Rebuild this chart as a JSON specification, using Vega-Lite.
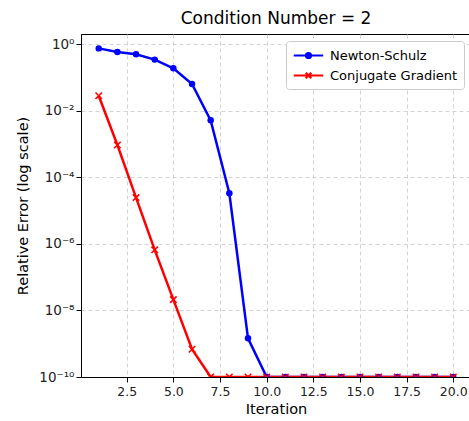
{
  "$schema": "https://vega.github.io/schema/vega-lite/v6.json",
  "autosize": {"type": "none"},
  "padding": {"left": 81, "top": 34, "right": 0, "bottom": 44},
  "width": 390,
  "height": 343,
  "background": "white",
  "title": {"text": "Condition Number = 2", "font": "DejaVu Sans", "fontSize": 17, "fontWeight": "normal", "color": "black", "offset": 6, "anchor": "middle"},
  "config": {
    "view": {"stroke": "black", "strokeWidth": 1},
    "axis": {
      "labelFont": "DejaVu Sans", "labelFontSize": 12.5, "labelColor": "#222",
      "titleFont": "DejaVu Sans", "titleFontSize": 14.5, "titleFontWeight": "normal", "titleColor": "black",
      "domainColor": "black", "tickColor": "black", "tickSize": 5,
      "gridColor": "#c8c8c8", "gridDash": [4, 3], "gridWidth": 0.8
    },
    "legend": {
      "orient": "top-right", "offset": 7,
      "labelFont": "DejaVu Sans", "labelFontSize": 13, "labelColor": "black",
      "strokeColor": "#cccccc", "fillColor": "white", "cornerRadius": 3, "padding": 6,
      "symbolSize": 196, "symbolStrokeWidth": 2.2, "symbolOffset": 8, "labelOffset": 13, "rowPadding": 4
    }
  },
  "data": {"values": [
    {"iter": 1, "err": 0.74, "method": "Newton-Schulz"},
    {"iter": 2, "err": 0.575, "method": "Newton-Schulz"},
    {"iter": 3, "err": 0.49, "method": "Newton-Schulz"},
    {"iter": 4, "err": 0.34, "method": "Newton-Schulz"},
    {"iter": 5, "err": 0.186, "method": "Newton-Schulz"},
    {"iter": 6, "err": 0.063, "method": "Newton-Schulz"},
    {"iter": 7, "err": 0.0051, "method": "Newton-Schulz"},
    {"iter": 8, "err": 3.3e-5, "method": "Newton-Schulz"},
    {"iter": 9, "err": 1.45e-9, "method": "Newton-Schulz"},
    {"iter": 10, "err": 1e-10, "method": "Newton-Schulz"},
    {"iter": 11, "err": 1e-10, "method": "Newton-Schulz"},
    {"iter": 12, "err": 1e-10, "method": "Newton-Schulz"},
    {"iter": 13, "err": 1e-10, "method": "Newton-Schulz"},
    {"iter": 14, "err": 1e-10, "method": "Newton-Schulz"},
    {"iter": 15, "err": 1e-10, "method": "Newton-Schulz"},
    {"iter": 16, "err": 1e-10, "method": "Newton-Schulz"},
    {"iter": 17, "err": 1e-10, "method": "Newton-Schulz"},
    {"iter": 18, "err": 1e-10, "method": "Newton-Schulz"},
    {"iter": 19, "err": 1e-10, "method": "Newton-Schulz"},
    {"iter": 20, "err": 1e-10, "method": "Newton-Schulz"},
    {"iter": 1, "err": 0.028, "method": "Conjugate Gradient"},
    {"iter": 2, "err": 9.3e-4, "method": "Conjugate Gradient"},
    {"iter": 3, "err": 2.45e-5, "method": "Conjugate Gradient"},
    {"iter": 4, "err": 6.6e-7, "method": "Conjugate Gradient"},
    {"iter": 5, "err": 2.1e-8, "method": "Conjugate Gradient"},
    {"iter": 6, "err": 6.8e-10, "method": "Conjugate Gradient"},
    {"iter": 7, "err": 1e-10, "method": "Conjugate Gradient"},
    {"iter": 8, "err": 1e-10, "method": "Conjugate Gradient"},
    {"iter": 9, "err": 1e-10, "method": "Conjugate Gradient"},
    {"iter": 10, "err": 1e-10, "method": "Conjugate Gradient"},
    {"iter": 11, "err": 1e-10, "method": "Conjugate Gradient"},
    {"iter": 12, "err": 1e-10, "method": "Conjugate Gradient"},
    {"iter": 13, "err": 1e-10, "method": "Conjugate Gradient"},
    {"iter": 14, "err": 1e-10, "method": "Conjugate Gradient"},
    {"iter": 15, "err": 1e-10, "method": "Conjugate Gradient"},
    {"iter": 16, "err": 1e-10, "method": "Conjugate Gradient"},
    {"iter": 17, "err": 1e-10, "method": "Conjugate Gradient"},
    {"iter": 18, "err": 1e-10, "method": "Conjugate Gradient"},
    {"iter": 19, "err": 1e-10, "method": "Conjugate Gradient"},
    {"iter": 20, "err": 1e-10, "method": "Conjugate Gradient"}
  ]},
  "encoding": {
    "x": {"field": "iter", "type": "quantitative",
      "scale": {"domain": [0.05, 20.95], "nice": false, "zero": false},
      "axis": {"title": "Iteration", "values": [2.5, 5, 7.5, 10, 12.5, 15, 17.5, 20], "format": ".1f", "labelPadding": 3, "titlePadding": 5, "labelFlush": false}},
    "y": {"field": "err", "type": "quantitative",
      "scale": {"type": "log", "domain": [1e-10, 2], "nice": false},
      "axis": {"title": "Relative Error (log scale)", "values": [1, 0.01, 0.0001, 1e-6, 1e-8, 1e-10],
        "labelExpr": "['10⁰','10⁻¹','10⁻²','10⁻³','10⁻⁴','10⁻⁵','10⁻⁶','10⁻⁷','10⁻⁸','10⁻⁹','10⁻¹⁰'][-round(log(datum.value)/LN10)]",
        "labelFontSize": 13.5, "labelPadding": 2, "titlePadding": 8, "labelFlush": false}}
  },
  "layer": [
    {
      "mark": {"type": "line", "strokeWidth": 2.5, "clip": true},
      "encoding": {
        "stroke": {"field": "method", "type": "nominal", "scale": {"domain": ["Newton-Schulz", "Conjugate Gradient"], "range": ["#0000ff", "#ff0000"]},
          "legend": {"title": null,
            "encode": {"symbols": {"update": {
              "shape": {"signal": "datum.value === 'Newton-Schulz' ? 'M-2.1,0L2.1,0M-0.36,0A0.36,0.36 0 1,0 0.36,0A0.36,0.36 0 1,0 -0.36,0Z' : 'M-2.1,0L2.1,0M-0.4,-0.4L0.4,0.4M-0.4,0.4L0.4,-0.4'"},
              "fill": {"signal": "datum.value === 'Newton-Schulz' ? '#0000ff' : '#ff0000'"},
              "strokeWidth": {"value": 2.2}}}}}},
        "detail": {"field": "method"}
      }
    },
    {
      "transform": [{"filter": "datum.method === 'Newton-Schulz'"}],
      "mark": {"type": "point", "shape": "circle", "filled": true, "size": 42, "color": "#0000ff", "opacity": 1, "clip": true}
    },
    {
      "transform": [{"filter": "datum.method === 'Conjugate Gradient'"}],
      "mark": {"type": "point", "shape": "M-1,-1L1,1M-1,1L1,-1", "filled": false, "size": 42, "color": "#ff0000", "strokeWidth": 1.6, "opacity": 1, "clip": true}
    }
  ]
}
